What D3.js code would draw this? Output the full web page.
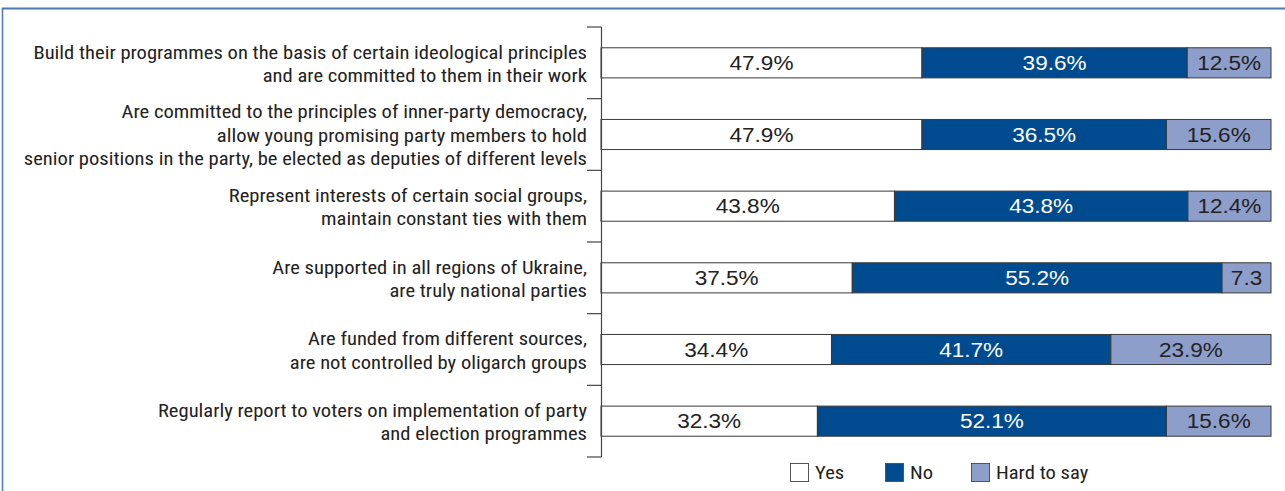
<!DOCTYPE html>
<html>
<head>
<meta charset="utf-8">
<script src="https://cdn.jsdelivr.net/npm/d3@7"></script>
<style>
  html, body { margin: 0; padding: 0; background: #fff; }
  svg { display: block; }
</style>
</head>
<body>
<svg id="chart" width="1285" height="491"></svg>
<script>
// Statements about political parties, each split into Yes / No / Hard to say
const categories = [
  ["Build their programmes on the basis of certain ideological principles", "and are committed to them in their work"],
  ["Are committed to the principles of inner-party democracy,", "allow young promising party members to hold", "senior positions in the party, be elected as deputies of different levels"],
  ["Represent interests of certain social groups,", "maintain constant ties with them"],
  ["Are supported in all regions of Ukraine,", "are truly national parties"],
  ["Are funded from different sources,", "are not controlled by oligarch groups"],
  ["Regularly report to voters on implementation of party", "and election programmes"]
];
const yesValues  = [47.9, 47.9, 43.8, 37.5, 34.4, 32.3];
const noValues   = [39.6, 36.5, 43.8, 55.2, 41.7, 52.1];
const hardValues = [12.5, 15.6, 12.4, 7.3, 23.9, 15.6];
const valueLabels = [
  ["47.9%", "39.6%", "12.5%"],
  ["47.9%", "36.5%", "15.6%"],
  ["43.8%", "43.8%", "12.4%"],
  ["37.5%", "55.2%", "7.3"],
  ["34.4%", "41.7%", "23.9%"],
  ["32.3%", "52.1%", "15.6%"]
];
const seriesNames = ["Yes", "No", "Hard to say"];
const seriesColors = ["#ffffff", "#004a90", "#8e9ecb"];

const svg = d3.select("#chart");
const W = 1285, H = 491;
const condensed = "'Liberation Sans Narrow', 'Roboto Condensed', 'Arial Narrow', sans-serif";
const regular = "'Liberation Sans', Arial, Helvetica, sans-serif";

// Frame around the figure
svg.append("line").attr("x1", 2).attr("x2", W).attr("y1", 8.5).attr("y2", 8.5)
  .attr("stroke", "#4a7ab8").attr("stroke-width", 2);
svg.append("line").attr("x1", 2.5).attr("x2", 2.5).attr("y1", 8).attr("y2", H)
  .attr("stroke", "#4a7ab8").attr("stroke-width", 1.5);

const plotLeft = 601, plotRight = 1271, plotTop = 27, plotBottom = 457;

const x = d3.scaleLinear().domain([0, 100]).range([plotLeft, plotRight]);
const y = d3.scaleBand().domain(d3.range(categories.length))
  .range([plotTop, plotBottom]).paddingInner(0.58).paddingOuter(0.29);

// Condensed face is stretched a little so the longest label line spans the label column
const probe = svg.append("text").attr("font-family", condensed).attr("font-size", 18)
  .text(categories[0][0]);
const stretch = 554 / probe.node().getComputedTextLength();
probe.remove();
const valueProbe = svg.append("text").attr("font-family", regular).attr("font-size", 19.5).text("47.9%");
const valueStretch = 64 / valueProbe.node().getComputedTextLength();
valueProbe.remove();

// Stack the three series
const rows = categories.map((c, i) => ({ i, Yes: yesValues[i], No: noValues[i], "Hard to say": hardValues[i] }));
const stacked = d3.stack().keys(seriesNames)(rows);

const g = svg.append("g");
stacked.forEach((layer, si) => {
  g.selectAll(null).data(layer).enter().append("rect")
    .attr("x", d => x(d[0]))
    .attr("y", d => y(d.data.i))
    .attr("width", d => x(d[1]) - x(d[0]))
    .attr("height", y.bandwidth())
    .attr("fill", seriesColors[si])
    .attr("stroke", "#3a3a3a")
    .attr("stroke-width", 1);
  g.selectAll(null).data(layer).enter().append("text")
    .attr("transform", d => `translate(${(x(d[0]) + x(d[1])) / 2},${y(d.data.i) + y.bandwidth() / 2}) scale(${valueStretch},1)`)
    .attr("dy", "0.36em")
    .attr("text-anchor", "middle")
    .attr("font-family", regular)
    .attr("font-size", 19.5)
    .attr("fill", si === 1 ? "#ffffff" : "#222")
    .text(d => valueLabels[d.data.i][si]);
});

// Category axis with ticks at band boundaries
const axisColor = "#444";
svg.append("line").attr("x1", plotLeft + 0.5).attr("x2", plotLeft + 0.5)
  .attr("y1", plotTop).attr("y2", plotBottom).attr("stroke", axisColor).attr("stroke-width", 1.2);
const step = (plotBottom - plotTop) / categories.length;
d3.range(categories.length + 1).forEach(k => {
  const ty = plotTop + k * step;
  svg.append("line").attr("x1", plotLeft - 14).attr("x2", plotLeft + 0.5)
    .attr("y1", ty).attr("y2", ty).attr("stroke", axisColor).attr("stroke-width", 1.2);
});

// Category labels, right aligned against the axis
const lineH = 23.5;
categories.forEach((lines, i) => {
  const cy = y(i) + y.bandwidth() / 2;
  const t = svg.append("text")
    .attr("transform", `translate(587,0) scale(${stretch},1)`)
    .attr("text-anchor", "end")
    .attr("font-family", condensed)
    .attr("font-size", 18)
    .attr("fill", "#222");
  lines.forEach((ln, k) => {
    t.append("tspan")
      .attr("x", 0)
      .attr("y", cy + (k - (lines.length - 1) / 2) * lineH + 1)
      .attr("dy", "0.36em")
      .text(ln);
  });
});

// Legend
const legendX = [790, 885, 971];
seriesNames.forEach((name, si) => {
  svg.append("rect").attr("x", legendX[si] + 0.5).attr("y", 463.5).attr("width", 18).attr("height", 18)
    .attr("fill", seriesColors[si]).attr("stroke", "#555").attr("stroke-width", 1);
  svg.append("text")
    .attr("transform", `translate(${legendX[si] + 25},473) scale(${stretch},1)`)
    .attr("dy", "0.36em")
    .attr("font-family", condensed).attr("font-size", 18).attr("fill", "#222")
    .text(name);
});
</script>
</body>
</html>
